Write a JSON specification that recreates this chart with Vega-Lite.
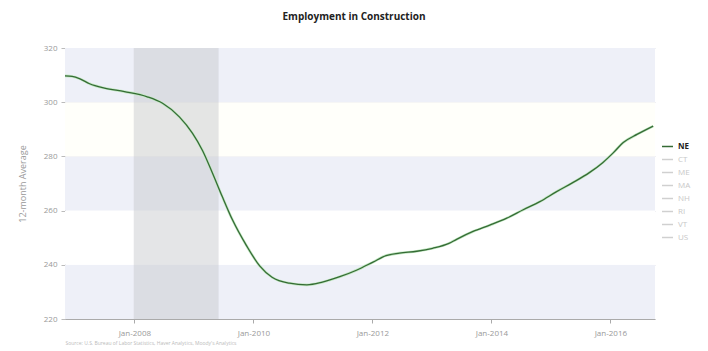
{
  "$schema": "https://vega.github.io/schema/vega-lite/v6.json",
  "autosize": "none",
  "width": 590,
  "height": 271,
  "padding": {"left": 65, "top": 48, "right": 53, "bottom": 32},
  "background": "white",
  "title": {"text": "Employment in Construction", "font": "Open Sans", "fontSize": 10, "fontWeight": "bold", "color": "#222", "anchor": "middle", "offset": 22, "dx": -6},
  "config": {"view": {"stroke": null}, "font": "Open Sans"},
  "datasets": {
    "bands": [
      {"lo": 220, "hi": 240, "kind": "blue"},
      {"lo": 240, "hi": 260, "kind": "white"},
      {"lo": 260, "hi": 280, "kind": "blue"},
      {"lo": 280, "hi": 300, "kind": "cream"},
      {"lo": 300, "hi": 320, "kind": "blue"}
    ],
    "recession": [{"start": "2007-12-28", "end": "2009-06-01"}],
    "series": [
      {"date": "2006-11-01", "value": 309.7, "series": "NE"},
      {"date": "2006-12-15", "value": 309.5, "series": "NE"},
      {"date": "2007-02-01", "value": 308.6, "series": "NE"},
      {"date": "2007-04-01", "value": 306.8, "series": "NE"},
      {"date": "2007-07-01", "value": 305.2, "series": "NE"},
      {"date": "2007-11-01", "value": 303.9, "series": "NE"},
      {"date": "2008-03-20", "value": 302.0, "series": "NE"},
      {"date": "2008-06-22", "value": 299.6, "series": "NE"},
      {"date": "2008-10-03", "value": 294.6, "series": "NE"},
      {"date": "2008-12-22", "value": 288.6, "series": "NE"},
      {"date": "2009-02-22", "value": 282.2, "series": "NE"},
      {"date": "2009-04-24", "value": 273.9, "series": "NE"},
      {"date": "2009-06-24", "value": 265.1, "series": "NE"},
      {"date": "2009-08-25", "value": 256.6, "series": "NE"},
      {"date": "2009-11-20", "value": 247.0, "series": "NE"},
      {"date": "2010-02-08", "value": 239.6, "series": "NE"},
      {"date": "2010-04-25", "value": 235.4, "series": "NE"},
      {"date": "2010-08-10", "value": 233.2, "series": "NE"},
      {"date": "2010-11-25", "value": 232.6, "series": "NE"},
      {"date": "2011-02-28", "value": 233.6, "series": "NE"},
      {"date": "2011-06-15", "value": 235.6, "series": "NE"},
      {"date": "2011-09-25", "value": 238.0, "series": "NE"},
      {"date": "2012-01-05", "value": 241.0, "series": "NE"},
      {"date": "2012-03-25", "value": 243.4, "series": "NE"},
      {"date": "2012-06-15", "value": 244.3, "series": "NE"},
      {"date": "2012-09-30", "value": 245.0, "series": "NE"},
      {"date": "2013-01-05", "value": 246.1, "series": "NE"},
      {"date": "2013-04-15", "value": 247.9, "series": "NE"},
      {"date": "2013-06-01", "value": 249.4, "series": "NE"},
      {"date": "2013-09-10", "value": 252.3, "series": "NE"},
      {"date": "2013-12-25", "value": 254.7, "series": "NE"},
      {"date": "2014-04-05", "value": 257.2, "series": "NE"},
      {"date": "2014-07-15", "value": 260.3, "series": "NE"},
      {"date": "2014-10-25", "value": 263.3, "series": "NE"},
      {"date": "2015-02-05", "value": 267.0, "series": "NE"},
      {"date": "2015-05-15", "value": 270.3, "series": "NE"},
      {"date": "2015-08-25", "value": 274.0, "series": "NE"},
      {"date": "2015-11-15", "value": 277.7, "series": "NE"},
      {"date": "2016-01-20", "value": 281.4, "series": "NE"},
      {"date": "2016-03-20", "value": 285.1, "series": "NE"},
      {"date": "2016-06-15", "value": 288.2, "series": "NE"},
      {"date": "2016-09-20", "value": 291.2, "series": "NE"}
    ]
  },
  "resolve": {"scale": {"color": "independent"}},
  "layer": [
    {
      "data": {"name": "bands"},
      "mark": {"type": "rect", "x": 0, "x2": {"expr": "width"}},
      "encoding": {
        "y": {"field": "lo", "type": "quantitative", "scale": {"domain": [220, 320], "nice": false},
          "axis": {"values": [220, 240, 260, 280, 300, 320], "title": "12-month Average", "titleFont": "Open Sans", "titleFontWeight": "normal", "titleFontSize": 9, "titleColor": "#999", "titlePadding": 16,
            "labelFontSize": 8, "labelColor": "#999", "labelPadding": 4, "tickColor": "#bbb", "tickSize": 4,
            "domain": true, "domainColor": "#aaa", "grid": true, "gridColor": "#e2e3e8", "gridWidth": 1}},
        "y2": {"field": "hi"},
        "fill": {"field": "kind", "type": "nominal", "scale": {"domain": ["blue", "white", "cream"], "range": ["#eef0f8", "#ffffff", "#fffffa"]}, "legend": null}
      }
    },
    {
      "data": {"name": "recession"},
      "mark": {"type": "rect", "fill": "#c4c5c9", "opacity": 0.45},
      "encoding": {
        "x": {"field": "start", "type": "temporal"},
        "x2": {"field": "end"}
      }
    },
    {
      "data": {"name": "series"},
      "mark": {"type": "line", "stroke": "#c2e8c2", "strokeWidth": 2.6, "interpolate": "monotone"},
      "encoding": {
        "x": {"field": "date", "type": "temporal"},
        "y": {"field": "value", "type": "quantitative"}
      }
    },
    {
      "data": {"name": "series"},
      "mark": {"type": "line", "strokeWidth": 1.3, "interpolate": "monotone"},
      "encoding": {
        "x": {"field": "date", "type": "temporal", "scale": {"domain": ["2006-11-01", "2016-10-01"], "nice": false},
          "axis": {"values": ["2008-01-01", "2010-01-01", "2012-01-01", "2014-01-01", "2016-01-01"], "format": "%b-%Y", "labelFontSize": 8, "labelColor": "#999", "labelPadding": 6,
            "tickColor": "#aaa", "tickSize": 4, "domainColor": "#aaa", "grid": false,
            "title": "Source: U.S. Bureau of Labor Statistics, Haver Analytics, Moody's Analytics", "titleFontSize": 5, "titleFontWeight": "normal", "titleColor": "#bbb", "titleAnchor": "start", "titlePadding": 3}},
        "y": {"field": "value", "type": "quantitative"},
        "color": {"field": "series", "type": "nominal",
          "scale": {"domain": ["NE", "CT", "ME", "MA", "NH", "RI", "VT", "US"], "range": ["#356b35", "#d0d0d0", "#d0d0d0", "#d0d0d0", "#d0d0d0", "#d0d0d0", "#d0d0d0", "#d0d0d0"]},
          "legend": {"orient": "none", "legendX": 596, "legendY": 92, "title": null, "symbolType": "stroke", "symbolSize": 120, "symbolStrokeWidth": 1.5, "labelFontSize": 8, "rowPadding": 2, "labelOffset": 4,
            "encode": {"labels": {"update": {"fill": {"signal": "datum.label === 'NE' ? '#222' : '#c8c8c8'"}, "fontWeight": {"signal": "datum.label === 'NE' ? 'bold' : 'normal'"}}}}}}
      }
    }
  ]
}
